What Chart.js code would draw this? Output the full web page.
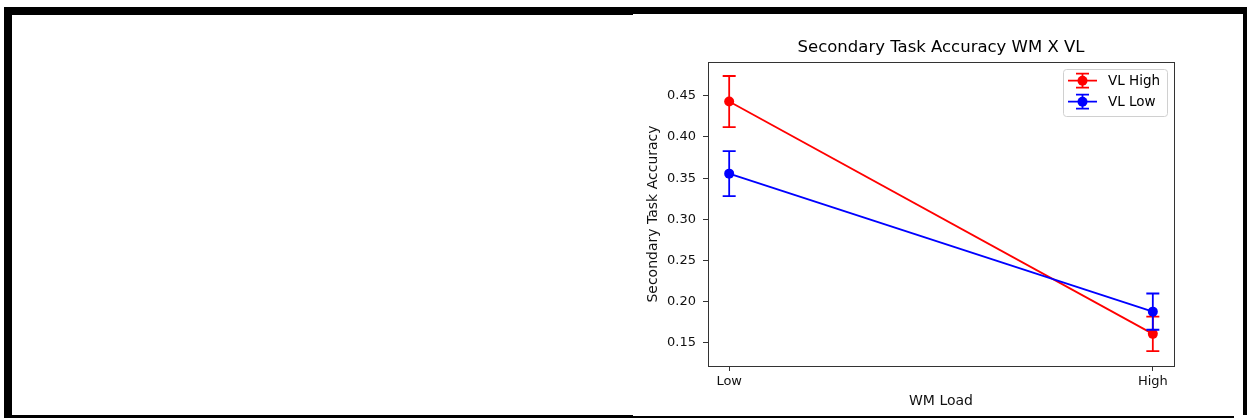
<!DOCTYPE html>
<html>
<head>
<meta charset="utf-8">
<script src="https://cdn.jsdelivr.net/npm/chart.js@4/dist/chart.umd.min.js"></script>
<style>
  html, body { margin: 0; padding: 0; background: #fff; }
  body { width: 1247px; height: 418px; position: relative; overflow: hidden; }
  .bar { position: absolute; background: #000; }
  #wrap { position: absolute; left: 633px; top: 15px; width: 610px; height: 400px; }
</style>
</head>
<body>
<!-- black frame around the figure -->
<div class="bar" style="left:4px;top:7px;width:629px;height:8px;"></div>
<div class="bar" style="left:633px;top:7px;width:614px;height:7px;"></div>
<div class="bar" style="left:4px;top:7px;width:8px;height:411px;"></div>
<div class="bar" style="left:1243px;top:7px;width:4px;height:408px;"></div>
<div class="bar" style="left:4px;top:415px;width:629px;height:3px;"></div>
<div class="bar" style="left:633px;top:416px;width:601px;height:2px;"></div>

<div id="wrap"><canvas id="chart" width="610" height="400"></canvas></div>

<script>
// ============ DATA ============
const conditions = ['Low', 'High'];          // WM Load levels
const vlHighMean = [0.443, 0.161];
const vlHighErr  = [0.031, 0.021];
const vlLowMean  = [0.3555, 0.188];
const vlLowErr   = [0.0273, 0.022];
const yTicks = [0.15, 0.20, 0.25, 0.30, 0.35, 0.40, 0.45];

const FONT = 'DejaVu Sans';
const RED = '#ff0000';
const BLUE = '#0000ff';
const LW = 1.8;

const series = [
  { label: 'VL High', color: RED,  mean: vlHighMean, err: vlHighErr },
  { label: 'VL Low',  color: BLUE, mean: vlLowMean,  err: vlLowErr },
];

// ============ PLUGINS ============
// spines on all four sides
const frame = {
  id: 'frame',
  beforeDatasetsDraw(chart) {
    const { ctx, chartArea: a } = chart;
    ctx.save();
    ctx.strokeStyle = '#333';
    ctx.lineWidth = 1;
    ctx.strokeRect(Math.round(a.left) + 0.5, Math.round(a.top) + 0.5,
      Math.round(a.right - a.left), Math.round(a.bottom - a.top));
    ctx.restore();
  }
};

// vertical error bars with caps, drawn under each dataset's line
const errorBars = {
  id: 'errorBars',
  beforeDatasetDraw(chart, args) {
    const s = series[args.index];
    const { ctx, scales: { x, y } } = chart;
    const cap = 6.5;
    ctx.save();
    ctx.strokeStyle = s.color;
    ctx.lineWidth = LW;
    s.mean.forEach((m, i) => {
      const px = x.getPixelForValue(i);
      const top = y.getPixelForValue(m + s.err[i]);
      const bot = y.getPixelForValue(m - s.err[i]);
      ctx.beginPath();
      ctx.moveTo(px, top); ctx.lineTo(px, bot);
      ctx.moveTo(px - cap, top); ctx.lineTo(px + cap, top);
      ctx.moveTo(px - cap, bot); ctx.lineTo(px + cap, bot);
      ctx.stroke();
    });
    ctx.restore();
  }
};

// title + legend box
const decor = {
  id: 'decor',
  afterDraw(chart) {
    const { ctx, chartArea: a } = chart;
    ctx.save();
    ctx.fillStyle = '#000';
    ctx.font = `16.5px "${FONT}"`;
    ctx.textAlign = 'center';
    ctx.textBaseline = 'middle';
    ctx.fillText('Secondary Task Accuracy WM X VL', (a.left + a.right) / 2, 33);

    // legend
    const w = 104, h = 47;
    const lx = a.right - 7 - w, ly = a.top + 7;
    ctx.fillStyle = 'rgba(255,255,255,0.8)';
    ctx.strokeStyle = '#d0d0d0';
    ctx.lineWidth = 1;
    ctx.beginPath();
    ctx.roundRect(Math.round(lx) + 0.5, Math.round(ly) + 0.5, w, h, 3);
    ctx.fill();
    ctx.stroke();

    ctx.font = `13.5px "${FONT}"`;
    ctx.textAlign = 'left';
    series.forEach((s, i) => {
      const ry = ly + 11.7 + i * 21;
      const mx = lx + 19.5;
      ctx.strokeStyle = s.color;
      ctx.fillStyle = s.color;
      ctx.lineWidth = LW;
      ctx.beginPath();
      ctx.moveTo(lx + 5, ry); ctx.lineTo(lx + 34, ry);
      ctx.moveTo(mx, ry - 7); ctx.lineTo(mx, ry + 7);
      ctx.moveTo(mx - 6.5, ry - 7); ctx.lineTo(mx + 6.5, ry - 7);
      ctx.moveTo(mx - 6.5, ry + 7); ctx.lineTo(mx + 6.5, ry + 7);
      ctx.stroke();
      ctx.beginPath();
      ctx.arc(mx, ry, 5, 0, Math.PI * 2);
      ctx.fill();
      ctx.fillStyle = '#000';
      ctx.fillText(s.label, lx + 45, ry + 1);
    });
    ctx.restore();
  }
};

// ============ CHART ============
const tickFont = { family: FONT, size: 13 };
const labelFont = { family: FONT, size: 14 };

new Chart(document.getElementById('chart'), {
  type: 'line',
  data: {
    datasets: series.map((s, i) => ({
      label: s.label,
      data: s.mean.map((v, j) => ({ x: j, y: v })),
      borderColor: s.color,
      backgroundColor: s.color,
      borderWidth: LW,
      pointRadius: 5,
      pointBorderWidth: 0,
      pointBackgroundColor: s.color,
      tension: 0,
      order: i === 0 ? 1 : 0,
    }))
  },
  options: {
    responsive: false,
    animation: false,
    events: [],
    layout: { padding: { left: 8, top: 47, right: 69, bottom: 0 } },
    plugins: { legend: { display: false }, tooltip: { enabled: false } },
    scales: {
      x: {
        type: 'linear',
        min: -0.05,
        max: 1.05,
        afterBuildTicks: (sc) => { sc.ticks = conditions.map((c, i) => ({ value: i })); },
        afterFit: (sc) => { sc.height = 49; },
        ticks: {
          color: '#111', font: tickFont, padding: 3, maxRotation: 0,
          callback: (v, i) => conditions[i],
        },
        grid: { drawOnChartArea: false, drawTicks: true, tickLength: 5, color: '#333' },
        border: { display: false },
        title: { display: true, text: 'WM Load', color: '#111', font: labelFont, padding: { top: 4, bottom: 5 } },
      },
      y: {
        min: 0.122,
        max: 0.491,
        afterBuildTicks: (sc) => { sc.ticks = yTicks.map(v => ({ value: v })); },
        afterFit: (sc) => { sc.width = 67; },
        ticks: {
          color: '#111', font: tickFont, padding: 7,
          callback: (v) => v.toFixed(2),
        },
        grid: { drawOnChartArea: false, drawTicks: true, tickLength: 5, color: '#333' },
        border: { display: false },
        title: { display: true, text: 'Secondary Task Accuracy', color: '#111', font: labelFont, padding: { top: 4, bottom: 4 } },
      }
    }
  },
  plugins: [frame, errorBars, decor]
});
</script>
</body>
</html>
